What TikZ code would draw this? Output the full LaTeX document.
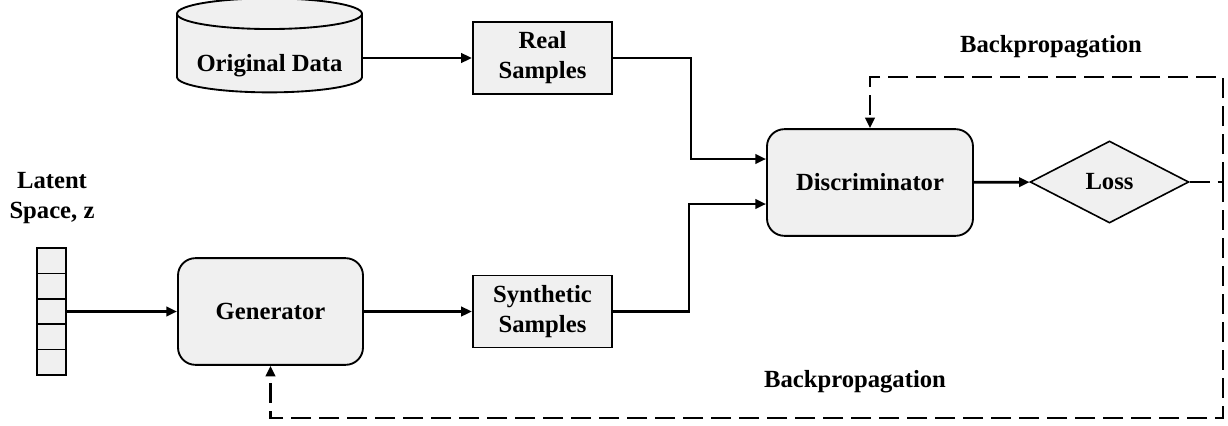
\documentclass[tikz,border=0pt]{standalone}
\usepackage{fontspec}
\setmainfont{Liberation Serif}
\usetikzlibrary{arrows.meta,shapes.geometric}

\definecolor{boxgray}{HTML}{F0F0F0}

\begin{document}
\begin{tikzpicture}[
            x = 0.75pt, y = -0.75pt, % pixel grid, y grows downwards
            > = {Triangle[length=8pt,width=7pt]}, % arrow head style
            line width = 2pt, % connector style
            font = \fontsize{18.5}{22.5}\selectfont\bfseries
        ]

        \tikzstyle{box}=[
            draw = black,
            line width = 1.4pt,
            fill = boxgray,
            inner sep = 0pt,
            align = center
        ]
        \tikzstyle{net}=[box, rounded corners = 13pt, minimum height = 80pt]
        \tikzstyle{sampbox}=[box, minimum width = 104.5pt, minimum height = 54pt]
        \tikzstyle{cell}=[box, line width = 1.2pt, minimum width = 21.75pt, minimum height = 19pt]
        \tikzstyle{back}=[dash pattern = on 15pt off 6pt]

        \useasboundingbox (0,0) rectangle (1228,425);

        % data side (text pushed down into the body of the drum)
        \node[box, cylinder, shape border rotate = 90, aspect = 0.21,
              text height = 31pt,
              minimum width = 138.75pt, minimum height = 70.5pt] (data) at (269.5,53.5) {Original Data};
        \node[sampbox] (real) at (542.5,58) {Real\\Samples};

        % latent vector z
        \node (latent) at (52,198) [align = center] {Latent\\Space, z};
        \foreach \i in {0,...,4}
            \node[cell] (z\i) at (51.5,260.7+25.4*\i) {};

        \node[net, minimum width = 138.75pt] (gen) at (270.5,311.5) {Generator};
        \node[sampbox] (synth) at (542.5,311.5) {Synthetic\\Samples};

        \node[net, minimum width = 154.5pt] (disc) at (870,182.5) {Discriminator};
        \node[box, diamond, line width = 1.2pt, aspect = 1.94,
              minimum width = 119pt, minimum height = 61.5pt] (loss) at (1109.5,182) {Loss};

        \node (bp1) at (1051,47) {Backpropagation};
        \node (bp2) at (855,382) {Backpropagation};

        \coordinate (j1) at (691,159);
        \coordinate (j2) at (689,204);
        \coordinate (bk) at (1223,182);
        \coordinate (top) at (870,77);
        \coordinate (bot) at (270.5,418);

        \draw[->] (data.east |- real) -- (real);
        \draw[->] (real) -| (j1) -- (j1 -| disc.west);
        \draw[->] (z2) -- (gen);
        \draw[->] (gen) -- (synth);
        \draw[->] (synth) -| (j2) -- (j2 -| disc.west);
        \draw[->] (disc) -- (loss);

        % feedback paths
        \draw[back] (loss.east) -- (bk);
        \draw[back, ->] (bk) |- (top) -- (disc.north);
        \draw[back, ->] (bk) |- (bot) -- (gen.south);

    \end{tikzpicture}
\end{document}
